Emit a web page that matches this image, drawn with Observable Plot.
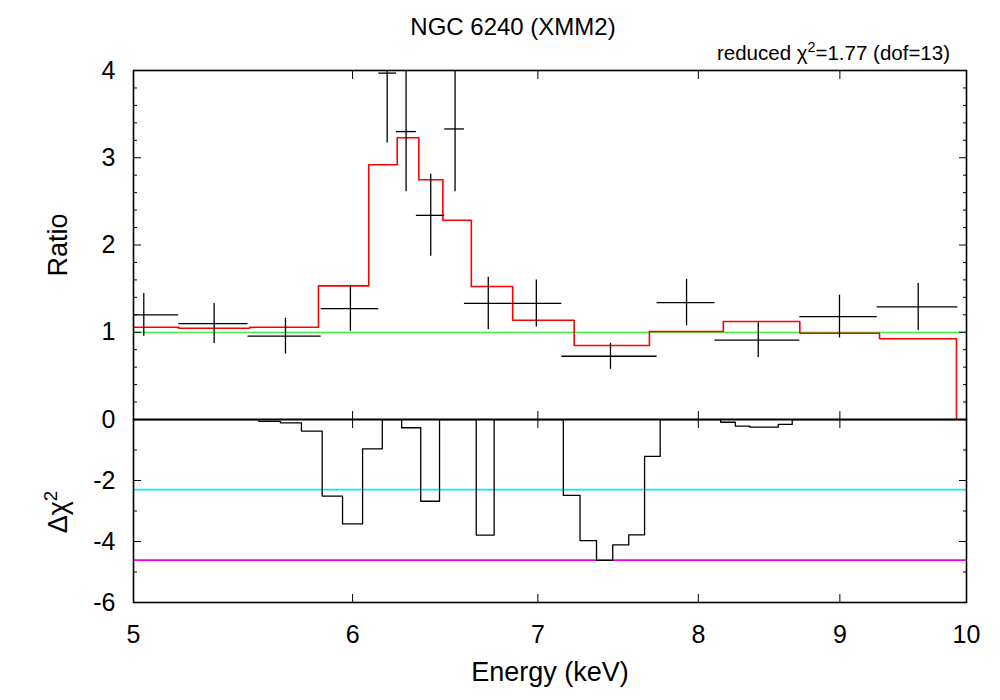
<!DOCTYPE html>
<html><head><meta charset="utf-8">
<script src="https://cdn.jsdelivr.net/npm/d3@7"></script>
<script src="https://cdn.jsdelivr.net/npm/@observablehq/plot@0.6"></script>
<style>
body{margin:0;background:#fff;font-family:"Liberation Sans",Arial,sans-serif;}
#wrap{position:relative;width:1000px;height:700px;overflow:hidden;background:#fff;}
.lbl{position:absolute;color:#000;white-space:nowrap;line-height:1;}
#title{left:0;width:1026px;top:15px;text-align:center;font-size:24px;}
#chi{right:50px;top:43px;font-size:20.5px;}
#chi sup,#dchi sup{font-size:0.7em;vertical-align:0;position:relative;top:-0.55em;}
#dchi{left:58px;top:512px;font-size:27px;transform:translate(-50%,-50%) rotate(-90deg);}
#top{position:absolute;left:0;top:0;}
#bot{position:absolute;left:0;top:417px;}
</style></head>
<body>
<div id="wrap">
  <div id="top"></div>
  <div id="bot"></div>
  <div id="title" class="lbl"></div>
  <div id="chi" class="lbl"></div>
  <div id="dchi" class="lbl"></div>
</div>
<script>
// ---- data ----
// data points: bin centre, lower/upper bin edge (keV), ratio, 1-sigma error
const energy   = [5.043, 5.347, 5.674, 5.989, 6.175, 6.273, 6.403, 6.534, 6.717, 6.991, 7.436, 7.922, 8.409, 8.997, 9.606];
const energyLo = [4.894, 5.192, 5.500, 5.845, 6.132, 6.223, 6.327, 6.478, 6.585, 6.852, 7.141, 7.730, 8.111, 8.705, 9.284];
const energyHi = [5.192, 5.500, 5.845, 6.132, 6.223, 6.327, 6.478, 6.585, 6.852, 7.141, 7.730, 8.111, 8.705, 9.284, 9.928];
const ratio    = [1.20, 1.10, 0.955, 1.27, 3.97, 3.30, 2.34, 3.33, 1.33, 1.33, 0.725, 1.34, 0.91, 1.18, 1.29];
const ratioErr = [0.245, 0.23, 0.205, 0.26, 0.80, 0.69, 0.47, 0.72, 0.30, 0.27, 0.15, 0.265, 0.20, 0.245, 0.27];

// model (red histogram): left bin edges and ratio level, last edge drops to 0
const modelEdge  = [5.0, 5.192, 5.508, 5.832, 6.081, 6.227, 6.340, 6.468, 6.623, 6.855, 7.215, 7.681, 8.168, 8.705, 9.302, 9.917];
const modelRatio = [1.058, 1.046, 1.058, 1.532, 2.919, 3.229, 2.747, 2.284, 1.524, 1.138, 0.848, 1.009, 1.123, 0.989, 0.925, 0];

// delta chi^2 histogram: left bin edges and values
const dchiEdge = [5.0, 5.55, 5.65, 5.75, 5.85, 5.95, 6.05, 6.15, 6.25, 6.35, 6.45, 6.65, 6.75, 7.15, 7.25, 7.35, 7.45, 7.55, 7.65, 7.75, 8.15, 8.25, 8.35, 8.55, 8.65, 10.0];
const dchi     = [0, -0.06, -0.11, -0.38, -2.51, -3.42, -0.96, 0, -0.27, -2.68, 0, -3.79, 0, -2.49, -3.97, -4.62, -4.11, -3.78, -1.21, 0, -0.09, -0.22, -0.25, -0.16, 0, 0];

const unityLine = 1;
const conf68 = -2.30;
const conf90 = -4.61;

// ticks
const xTicks = [6, 7, 8, 9];
const xLabels = [5, 6, 7, 8, 9, 10];
const yTopMajor = [0, 1, 2, 3, 4];
const yTopMinor = [0.2,0.4,0.6,0.8,1.2,1.4,1.6,1.8,2.2,2.4,2.6,2.8,3.2,3.4,3.6,3.8];
const yBotMajor = [-6, -4, -2, 0];
const yBotMinor = [-5, -3, -1];
const yBotLabels = [-6, -4, -2];

const titleText = "NGC 6240 (XMM2)";
const chiHTML = "reduced \u03c7<sup>2</sup>=1.77 (dof=13)";
const xLabel = "Energy (keV)";
const yTopLabel = "Ratio";
const yBotHTML = "\u0394\u03c7<sup>2</sup>";

document.getElementById("title").textContent = titleText;
document.getElementById("chi").innerHTML = chiHTML;
document.getElementById("dchi").innerHTML = yBotHTML;

// ---- build ----
const points = energy.map((e, i) => ({e, lo: energyLo[i], hi: energyHi[i], r: ratio[i], err: ratioErr[i]}));
const model = modelEdge.map((e, i) => ({e, r: modelRatio[i]}));
const chi = dchiEdge.map((e, i) => ({e, v: dchi[i]}));

const font = "Liberation Sans, Arial, Helvetica, sans-serif";
const xOpt = {type: "log", domain: [5, 10]};
const fmt = d => String(d);
const tickFont = 25;

function frameTicks(major, minor, majorX, minorLen = 4, majorLen = 8) {
  return [
    Plot.axisY({anchor: "left", ticks: major, tickSize: majorLen, dx: majorLen, fill: "none", label: null}),
    Plot.axisY({anchor: "right", ticks: major, tickSize: majorLen, dx: -majorLen, fill: "none", label: null}),
    Plot.axisY({anchor: "left", ticks: minor, tickSize: minorLen, dx: minorLen, fill: "none", label: null}),
    Plot.axisY({anchor: "right", ticks: minor, tickSize: minorLen, dx: -minorLen, fill: "none", label: null}),
    Plot.axisX({anchor: "bottom", ticks: majorX, tickSize: majorLen, dy: -majorLen, fill: "none", label: null}),
    Plot.axisX({anchor: "top", ticks: majorX, tickSize: majorLen, dy: majorLen, fill: "none", label: null})
  ];
}

const topPlot = Plot.plot({
  width: 1000, height: 421,
  marginLeft: 133, marginRight: 34, marginTop: 70, marginBottom: 2,
  x: xOpt,
  y: {domain: [0, 4]},
  style: {fontFamily: font, fontSize: tickFont + "px", background: "transparent", overflow: "visible"},
  marks: [
    Plot.ruleY([unityLine], {stroke: "#00ee00", strokeWidth: 1}),
    Plot.line(model, {x: "e", y: "r", curve: "step-after", stroke: "#ff0000", strokeWidth: 1.6, clip: true}),
    Plot.ruleY(points, {y: "r", x1: "lo", x2: "hi", stroke: "#000", strokeWidth: 1.3, clip: true}),
    Plot.ruleX(points, {x: "e", y1: d => d.r - d.err, y2: d => d.r + d.err, stroke: "#000", strokeWidth: 1.3, clip: true}),
    ...frameTicks(yTopMajor, yTopMinor, xTicks),
    Plot.frame({stroke: "#000", strokeWidth: 1.6}),
    Plot.axisY({anchor: "left", ticks: yTopMajor, tickSize: 0, tickPadding: 18, stroke: "none", fontSize: tickFont, tickFormat: fmt, label: null}),
    Plot.text([yTopLabel], {frameAnchor: "left", dx: -75, rotate: -90, textAnchor: "middle", lineAnchor: "middle", fontSize: 27, text: d => d})
  ]
});
document.getElementById("top").appendChild(topPlot);

const botPlot = Plot.plot({
  width: 1000, height: 283,
  marginLeft: 133, marginRight: 34, marginTop: 2, marginBottom: 98,
  x: xOpt,
  y: {domain: [-6, 0]},
  style: {fontFamily: font, fontSize: tickFont + "px", background: "transparent", overflow: "visible"},
  marks: [
    Plot.ruleY([conf68], {stroke: "#00eeee", strokeWidth: 1.6}),
    Plot.ruleY([conf90], {stroke: "#ee00ee", strokeWidth: 1.6}),
    Plot.line(chi, {x: "e", y: "v", curve: "step-after", stroke: "#000", strokeWidth: 1.3, clip: true}),
    ...frameTicks(yBotMajor, yBotMinor, xTicks),
    Plot.frame({stroke: "#000", strokeWidth: 1.6}),
    Plot.axisY({anchor: "left", ticks: yBotLabels, tickSize: 0, tickPadding: 18, stroke: "none", fontSize: tickFont, tickFormat: fmt, label: null}),
    Plot.axisX({anchor: "bottom", ticks: xLabels, tickSize: 0, tickPadding: 23, stroke: "none", fontSize: tickFont, tickFormat: fmt, label: null}),
    Plot.text([xLabel], {frameAnchor: "bottom", dy: 70, lineAnchor: "middle", fontSize: 27, text: d => d})
  ]
});
document.getElementById("bot").appendChild(botPlot);
</script>
</body></html>
